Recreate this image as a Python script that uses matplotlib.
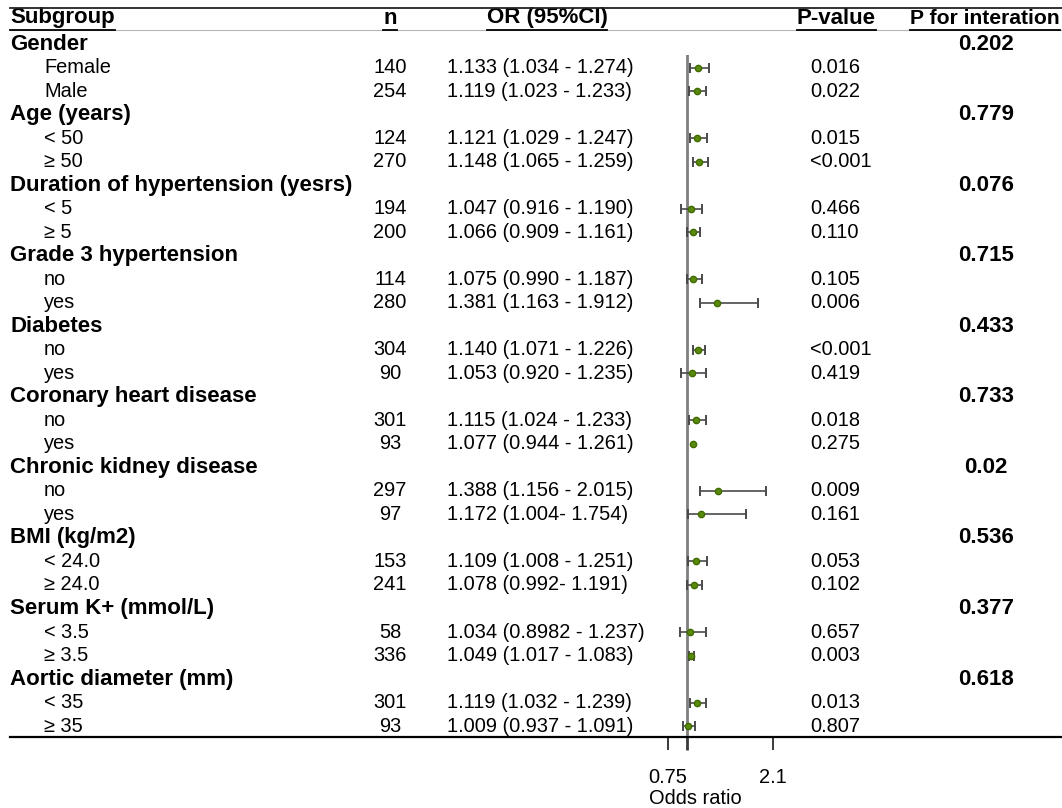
import numpy as np
import matplotlib
matplotlib.use("Agg")
import matplotlib.pyplot as plt
import matplotlib.transforms as mtransforms

plt.rcParams['font.family'] = ['Liberation Sans', 'DejaVu Sans']

# --- data -------------------------------------------------------------
groups = ["Gender", "Age (years)", "Duration of hypertension (yesrs)",
          "Grade 3 hypertension", "Diabetes", "Coronary heart disease",
          "Chronic kidney disease", "BMI (kg/m2)", "Serum K+ (mmol/L)",
          "Aortic diameter (mm)"]
p_interaction = ["0.202", "0.779", "0.076", "0.715", "0.433",
                 "0.733", "0.02", "0.536", "0.377", "0.618"]
sub_labels = [["Female", "Male"], ["< 50", "≥ 50"], ["< 5", "≥ 5"],
              ["no", "yes"], ["no", "yes"], ["no", "yes"], ["no", "yes"],
              ["< 24.0", "≥ 24.0"], ["< 3.5", "≥ 3.5"], ["< 35", "≥ 35"]]
n_vals = [140, 254, 124, 270, 194, 200, 114, 280, 304, 90,
          301, 93, 297, 97, 153, 241, 58, 336, 301, 93]
or_text = ["1.133 (1.034 - 1.274)", "1.119 (1.023 - 1.233)",
           "1.121 (1.029 - 1.247)", "1.148 (1.065 - 1.259)",
           "1.047 (0.916 - 1.190)", "1.066 (0.909 - 1.161)",
           "1.075 (0.990 - 1.187)", "1.381 (1.163 - 1.912)",
           "1.140 (1.071 - 1.226)", "1.053 (0.920 - 1.235)",
           "1.115 (1.024 - 1.233)", "1.077 (0.944 - 1.261)",
           "1.388 (1.156 - 2.015)", "1.172 (1.004- 1.754)",
           "1.109 (1.008 - 1.251)", "1.078 (0.992- 1.191)",
           "1.034 (0.8982 - 1.237)", "1.049 (1.017 - 1.083)",
           "1.119 (1.032 - 1.239)", "1.009 (0.937 - 1.091)"]
p_vals = ["0.016", "0.022", "0.015", "<0.001", "0.466", "0.110", "0.105",
          "0.006", "<0.001", "0.419", "0.018", "0.275", "0.009", "0.161",
          "0.053", "0.102", "0.657", "0.003", "0.013", "0.807"]
# values as drawn in the forest plot (one row has no whiskers drawn)
or_est = [1.133, 1.119, 1.121, 1.148, 1.047, 1.066, 1.075, 1.381, 1.140, 1.053,
          1.115, 1.077, 1.388, 1.172, 1.109, 1.078, 1.034, 1.049, 1.119, 1.009]
ci_lo = [1.034, 1.023, 1.029, 1.065, 0.916, 0.998, 0.990, 1.163, 1.071, 0.920,
         1.024, np.nan, 1.156, 1.004, 1.008, 0.992, 0.898, 1.017, 1.032, 0.937]
ci_hi = [1.274, 1.233, 1.247, 1.259, 1.190, 1.161, 1.187, 1.912, 1.226, 1.235,
         1.233, np.nan, 2.015, 1.754, 1.251, 1.191, 1.237, 1.083, 1.239, 1.091]
x_ticks = [0.75, 1.0, 2.1]
x_ticklabels = ["0.75", "", "2.1"]

# --- layout (pixels) ----------------------------------------------------
W, H = 1062, 808
FS = 14.4      # normal text
FSB = 16       # bold text
row0, row_h = 44, 23.52
ax_top, ax_bot = 55, 737
px_per_unit = 77.8
x075 = 668

fig = plt.figure(figsize=(W / 100, H / 100), dpi=100)
ax = fig.add_axes([0, (H - ax_bot) / H, 1, (ax_bot - ax_top) / H])
ax.set_xlim(0.75 - x075 / px_per_unit, 0.75 + (W - x075) / px_per_unit)
ax.set_ylim((ax_bot - row0) / row_h, (ax_top - row0) / row_h)

def px(x):
    return x / W

tr = mtransforms.blended_transform_factory(fig.transFigure, ax.transData)

# rows
rows = []
r = 0
k = 0
for g, pint, subs in zip(groups, p_interaction, sub_labels):
    ax.text(px(10), r, g, transform=tr, fontsize=FSB, fontweight='bold', va='center')
    ax.text(px(986), r, pint, transform=tr, fontsize=FSB, fontweight='bold',
            va='center', ha='center')
    r += 1
    for s in subs:
        ax.text(px(44), r, s, transform=tr, fontsize=FS, va='center')
        ax.text(px(390), r, str(n_vals[k]), transform=tr, fontsize=FS,
                va='center', ha='center')
        ax.text(px(447), r, or_text[k], transform=tr, fontsize=FS, va='center')
        ax.text(px(810), r, p_vals[k], transform=tr, fontsize=FS, va='center')
        rows.append(r)
        r += 1
        k += 1

rows = np.array(rows, dtype=float)
est = np.array(or_est)
lo = np.array(ci_lo)
hi = np.array(ci_hi)
ok = np.isfinite(lo)

# reference line at OR = 1
ax.axvline(1.0, color='#7f7f7f', lw=2, zorder=1)
ax.errorbar(est[ok], rows[ok], xerr=[est[ok] - lo[ok], hi[ok] - est[ok]],
            fmt='none', ecolor='#4a4a4a', elinewidth=1.2, capsize=3.5,
            capthick=1.4, zorder=2)
ax.plot(est, rows, 'o', color='#5a8a0c', mec='#3f6a00', ms=4.5, zorder=3)

# header
header_y = (18 - row0) / row_h
headers = [(10, "Subgroup", 'left', FSB), (390, "n", 'center', FSB),
           (547, "OR (95%CI)", 'center', FSB), (836, "P-value", 'center', FSB),
           (1060, "P for interation", 'right', 15.2)]
htexts = []
for x, t, ha, fs in headers:
    htexts.append(ax.text(px(x), header_y, t, transform=tr, fontsize=fs,
                          fontweight='bold', va='center', ha=ha))

# axis styling
for s in ['top', 'left', 'right']:
    ax.spines[s].set_visible(False)
ax.spines['bottom'].set_linewidth(1.6)
ax.spines['bottom'].set_bounds(ax.get_xlim()[0] + 10 / px_per_unit, ax.get_xlim()[1])
ax.set_yticks([])
ax.set_xticks(x_ticks)
ax.set_xticklabels(x_ticklabels)
ax.tick_params(axis='x', direction='out', length=9.5, width=1.4,
               color='#3a3a3a', pad=13, labelsize=FS)
ax.xaxis.get_major_ticks()[1].tick1line.set_color('#7f7f7f')
ax.xaxis.get_major_ticks()[1].tick1line.set_markeredgewidth(2)
ax.patch.set_visible(False)

fig.text(px(695), 1 - 798 / H, "Odds ratio", fontsize=FS, ha='center', va='center')

# table rules
fig.add_artist(plt.Line2D([px(10), 1], [1 - 8 / H, 1 - 8 / H],
                          transform=fig.transFigure, color='#222222', lw=1.3))
fig.add_artist(plt.Line2D([px(10), 1], [1 - 29.5 / H, 1 - 29.5 / H],
                          transform=fig.transFigure, color='#b5b5b5', lw=0.8))

# underline header texts
fig.canvas.draw()
rend = fig.canvas.get_renderer()
for t in htexts:
    bb = t.get_window_extent(rend)
    yy = 1 - 29.5 / H
    fig.add_artist(plt.Line2D([bb.x0 / W, bb.x1 / W], [yy, yy],
                              transform=fig.transFigure, color='black', lw=1.3))

fig.savefig('out.png', dpi=100)
